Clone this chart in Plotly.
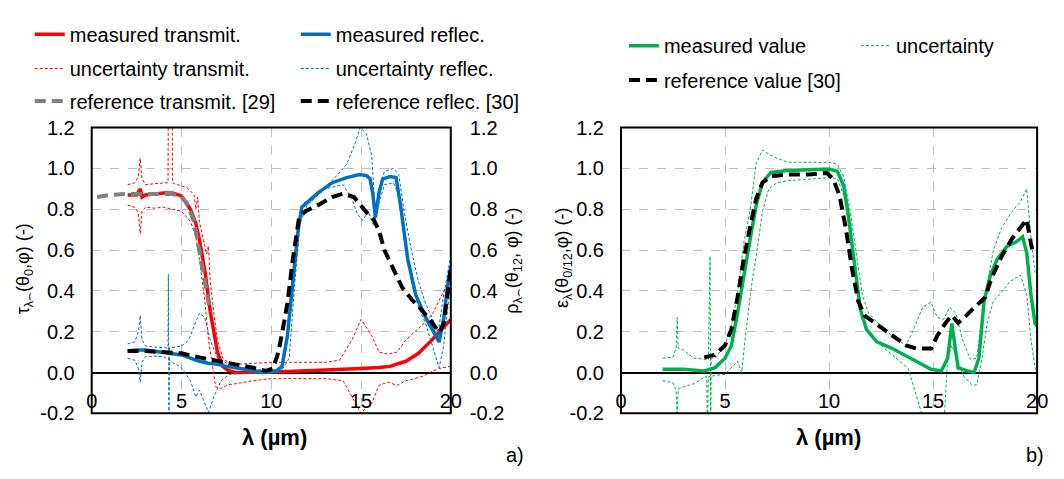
import plotly.graph_objects as go

# ---------------- data ----------------
# Left panel a): transmittance (left axis) and reflectance (right axis)
meas_T_x = [2.0, 2.5, 2.7, 2.8, 3.0, 3.5, 4.0, 4.5, 5.0, 5.5, 5.8, 6.0, 6.3, 6.6, 7.0, 7.3, 7.6, 8.0, 9.0, 10.0,
            11.0, 12.0, 13.0, 14.0, 15.0, 16.0, 16.6, 17.5, 18.2, 18.9, 19.5, 20.0]
meas_T_y = [0.87, 0.87, 0.90, 0.86, 0.87, 0.875, 0.88, 0.88, 0.865, 0.80, 0.73, 0.65, 0.50, 0.30, 0.10, 0.03, 0.01,
            0.0, 0.0, 0.003, 0.005, 0.008, 0.01, 0.013, 0.02, 0.025, 0.03, 0.055, 0.094, 0.155, 0.21, 0.26]

unc_T_up_x = [2.0, 2.4, 2.6, 2.7, 2.8, 3.0, 3.5, 4.0, 4.25, 4.28, 4.47, 4.5, 4.6, 5.0, 5.3, 5.5, 5.7, 5.8, 5.9,
              6.0, 6.2, 6.4, 6.5, 6.6, 6.8, 7.0, 7.3, 7.6, 8.0, 9.0, 10.0, 11.0, 12.0, 13.0, 13.8, 14.0, 14.5,
              15.0, 15.3, 15.6, 16.0, 16.5, 17.0, 17.5, 18.0, 18.5, 19.0, 19.5, 20.0]
unc_T_up_y = [0.92, 0.93, 0.96, 1.05, 0.95, 0.92, 0.925, 0.93, 0.93, 1.6, 1.6, 0.93, 0.925, 0.915, 0.905, 0.89,
              0.87, 0.80, 0.86, 0.74, 0.66, 0.58, 0.62, 0.45, 0.29, 0.16, 0.07, 0.05, 0.04, 0.045, 0.05, 0.05,
              0.05, 0.05, 0.06, 0.09, 0.16, 0.26, 0.22, 0.18, 0.10, 0.09, 0.10, 0.16, 0.20, 0.24, 0.29, 0.38, 0.47]

unc_T_lo_x = [2.0, 2.4, 2.6, 2.7, 2.8, 3.0, 3.5, 4.0, 4.5, 5.0, 5.5, 5.8, 6.0, 6.3, 6.5, 6.7, 6.9, 7.2, 7.6, 8.0,
              9.0, 10.0, 11.0, 12.0, 13.0, 14.0, 14.5, 15.0, 15.3, 15.6, 16.0, 16.5, 17.0, 17.5, 18.0, 18.5,
              19.0, 19.5, 20.0]
unc_T_lo_y = [0.82, 0.81, 0.78, 0.68, 0.79, 0.81, 0.805, 0.81, 0.80, 0.79, 0.74, 0.665, 0.555, 0.35, 0.165, 0.04,
              -0.07, -0.078, -0.06, -0.055, -0.04, -0.03, -0.03, -0.03, -0.03, -0.04, -0.12, -0.20, -0.17, -0.15,
              -0.063, -0.047, -0.063, -0.04, -0.03, -0.016, 0.008, 0.023, 0.03]

ref_T_x = [0.3, 1.0, 2.0, 3.0, 4.0, 4.5, 5.0, 5.3, 5.7, 6.0, 6.3, 6.6]
ref_T_y = [0.86, 0.87, 0.875, 0.877, 0.877, 0.875, 0.86, 0.83, 0.74, 0.60, 0.45, 0.30]

meas_R_x = [2.0, 2.5, 3.0, 3.5, 4.0, 4.5, 5.0, 5.5, 6.0, 6.5, 7.0, 7.5, 8.0, 8.5, 9.0, 9.7, 10.3, 10.6, 10.9,
            11.25, 11.5, 11.7, 12.1, 12.6, 13.4, 14.2, 14.9, 15.3, 15.5, 15.65, 15.8, 16.0, 16.2, 16.6, 16.95,
            17.2, 17.6, 18.05, 18.6, 19.1, 19.35, 19.6, 19.8, 20.0]
meas_R_y = [0.105, 0.11, 0.11, 0.105, 0.10, 0.095, 0.086, 0.07, 0.055, 0.045, 0.04, 0.03, 0.023, 0.015, 0.008,
            0.0, 0.008, 0.03, 0.18, 0.48, 0.70, 0.81, 0.84, 0.88, 0.93, 0.955, 0.97, 0.965, 0.95, 0.88, 0.76,
            0.88, 0.947, 0.96, 0.955, 0.82, 0.555, 0.38, 0.27, 0.19, 0.15, 0.26, 0.41, 0.52]

unc_R_up_x = [2.0, 2.4, 2.6, 2.7, 2.8, 3.0, 3.5, 4.0, 4.25, 4.27, 4.30, 4.33, 5.0, 5.3, 5.5, 5.8, 6.0, 6.3, 6.6,
              7.0, 7.5, 8.0, 9.0, 10.0, 10.5, 10.8, 11.0, 11.2, 11.5, 11.8, 12.5, 13.5, 14.2, 14.7, 14.95, 15.3,
              15.6, 15.8, 16.0, 16.3, 16.8, 17.1, 17.4, 17.8, 18.2, 18.6, 19.0, 19.3, 19.6, 20.0]
unc_R_up_y = [0.14, 0.15, 0.20, 0.28, 0.16, 0.13, 0.125, 0.12, 0.12, 0.48, -0.3, 0.12, 0.13, 0.15, 0.18, 0.25,
              0.29, 0.27, 0.16, 0.07, 0.047, 0.03, 0.015, 0.01, 0.02, 0.10, 0.29, 0.50, 0.72, 0.83, 0.87, 0.95,
              1.02, 1.13, 1.20, 1.17, 1.06, 0.77, 0.90, 0.985, 1.0, 0.97, 0.79, 0.60, 0.446, 0.336, 0.26, 0.196,
              0.38, 0.57]

unc_R_lo_x = [2.0, 2.4, 2.6, 2.7, 2.8, 3.0, 3.5, 4.0, 4.5, 5.0, 5.5, 5.8, 6.0, 6.3, 6.5, 6.8, 7.2, 7.7, 8.5, 9.5,
              10.5, 11.0, 11.3, 11.6, 12.0, 13.0, 14.0, 14.5, 14.8, 15.1, 15.4, 15.7, 16.0, 16.3, 16.8, 17.1,
              17.4, 17.8, 18.2, 18.6, 19.0, 19.35, 19.6, 20.0]
unc_R_lo_y = [0.07, 0.06, 0.02, -0.047, 0.05, 0.078, 0.08, 0.078, 0.05, 0.023, -0.04, -0.12, -0.086, -0.15,
              -0.196, -0.12, -0.04, -0.008, -0.005, -0.005, 0.0, 0.07, 0.43, 0.73, 0.82, 0.90, 0.92, 0.85, 0.775,
              0.745, 0.79, 0.72, 0.83, 0.92, 0.93, 0.87, 0.665, 0.446, 0.32, 0.24, 0.13, 0.023, 0.13, 0.45]

ref_R_x = [2.0, 3.0, 4.0, 5.0, 6.0, 7.0, 8.0, 9.0, 9.7, 10.1, 10.4, 10.7, 10.9, 11.2, 11.55, 11.9, 12.6, 13.4,
           14.0, 14.6, 15.1, 15.4, 15.7, 16.0, 16.3, 16.8, 17.3, 17.8, 18.4, 19.0, 19.35, 19.6, 19.85, 20.0]
ref_R_y = [0.105, 0.105, 0.10, 0.094, 0.074, 0.055, 0.04, 0.023, 0.008, 0.02, 0.10, 0.24, 0.34, 0.555, 0.76,
           0.79, 0.82, 0.86, 0.876, 0.86, 0.806, 0.775, 0.75, 0.696, 0.60, 0.51, 0.415, 0.36, 0.305, 0.24,
           0.196, 0.24, 0.41, 0.51]

# Right panel b): emissivity
meas_E_x = [2.0, 3.0, 4.0, 4.5, 5.0, 5.3, 5.6, 5.9, 6.2, 6.5, 6.8, 7.2, 8.0, 9.0, 10.0, 10.4, 10.7, 10.9, 11.1,
            11.3, 11.5, 11.8, 12.3, 13.0, 14.0, 14.9, 15.4, 15.7, 15.9, 16.0, 16.2, 16.65, 16.97, 17.2, 17.45,
            17.76, 18.08, 18.55, 19.0, 19.3, 19.5, 19.7, 19.9, 20.0]
meas_E_y = [0.016, 0.016, 0.008, 0.023, 0.07, 0.13, 0.29, 0.48, 0.65, 0.82, 0.93, 0.98, 0.99, 0.994, 0.997,
            0.986, 0.915, 0.79, 0.634, 0.477, 0.31, 0.21, 0.15, 0.12, 0.063, 0.016, 0.008, 0.07, 0.24, 0.16,
            0.023, 0.008, 0.0, 0.07, 0.35, 0.477, 0.555, 0.618, 0.64, 0.665, 0.587, 0.383, 0.24, 0.227]

unc_E_up_x = [2.0, 2.5, 2.65, 2.7, 2.75, 3.0, 3.5, 4.2, 4.28, 4.31, 4.34, 4.5, 5.0, 5.3, 5.6, 5.9, 6.2, 6.5,
              6.8, 7.1, 7.5, 8.0, 9.0, 10.0, 10.4, 10.7, 11.0, 11.3, 11.6, 11.9, 12.5, 13.2, 13.7, 14.0, 14.5,
              14.9, 15.2, 15.5, 15.8, 16.1, 16.4, 16.8, 17.1, 17.5, 17.9, 18.3, 18.8, 19.2, 19.5, 19.7, 19.9, 20.0]
unc_E_up_y = [0.07, 0.075, 0.12, 0.27, 0.12, 0.11, 0.07, 0.063, 0.57, -0.3, 0.07, 0.07, 0.133, 0.227, 0.383,
              0.634, 0.79, 1.025, 1.09, 1.07, 1.05, 1.03, 1.03, 1.03, 1.02, 0.96, 0.80, 0.60, 0.38, 0.29, 0.227,
              0.164, 0.133, 0.196, 0.32, 0.345, 0.27, 0.26, 0.32, 0.29, 0.164, 0.063, 0.07, 0.383, 0.60, 0.71,
              0.79, 0.837, 0.90, 0.665, 0.49, 0.477]

unc_E_lo_x = [2.0, 2.5, 2.65, 2.7, 2.75, 3.0, 3.5, 4.0, 4.12, 4.15, 4.2, 4.5, 5.0, 5.3, 5.6, 5.8, 6.0, 6.3, 6.5,
              6.8, 7.1, 7.5, 8.0, 9.0, 10.0, 10.4, 10.7, 11.0, 11.3, 11.6, 11.9, 12.5, 13.2, 13.8, 14.45, 14.6,
              15.3, 15.55, 15.7, 15.9, 16.2, 16.5, 16.9, 17.1, 17.35, 17.6, 17.9, 18.2, 18.7, 19.2, 19.5, 19.7,
              19.9, 20.0]
unc_E_lo_y = [-0.04, -0.05, -0.09, -0.21, -0.08, -0.07, -0.055, -0.023, -0.02, -0.3, -0.02, -0.016, -0.008,
              0.023, 0.055, 0.0, 0.196, 0.446, 0.57, 0.79, 0.90, 0.93, 0.94, 0.947, 0.955, 0.95, 0.87, 0.70,
              0.48, 0.29, 0.196, 0.133, 0.07, 0.02, -0.2, -0.4, -0.4, -0.2, 0.07, 0.133, 0.055, -0.023, -0.063,
              -0.06, 0.07, 0.243, 0.35, 0.383, 0.446, 0.477, 0.383, 0.164, 0.023, 0.0]

ref_E_x = [4.0, 4.5, 5.0, 5.3, 5.6, 5.9, 6.2, 6.5, 6.8, 7.2, 8.0, 9.0, 9.9, 10.2, 10.5, 10.8, 11.1, 11.4, 11.7,
           12.3, 13.0, 13.7, 14.2, 14.9, 15.2, 15.6, 15.9, 16.2, 16.6, 17.2, 17.5, 17.8, 18.3, 18.8, 19.3, 19.5,
           19.7, 19.8]
ref_E_y = [0.074, 0.086, 0.133, 0.21, 0.368, 0.555, 0.71, 0.853, 0.93, 0.962, 0.97, 0.97, 0.978, 0.947, 0.868,
           0.71, 0.51, 0.35, 0.28, 0.235, 0.18, 0.133, 0.117, 0.117, 0.18, 0.243, 0.28, 0.243, 0.28, 0.336,
           0.368, 0.46, 0.57, 0.657, 0.72, 0.75, 0.634, 0.587]

x_tickvals = [0, 5, 10, 15, 20]
x_ticktext = ["0", "5", "10", "15", "20"]
y_tickvals = [-0.2, 0.0, 0.2, 0.4, 0.6, 0.8, 1.0, 1.2]
y_ticktext = ["-0.2", "0.0", "0.2", "0.4", "0.6", "0.8", "1.0", "1.2"]

# ---------------- styling ----------------
RED = "#FF0000"
BLUE = "#0070C0"
GRAY = "#808080"
BLACK = "#000000"
GREEN = "#00B050"
FONT = "Liberation Sans, Arial, sans-serif"
FS = 20
FS_YTITLE = 18
FS_XTITLE = 22

# The page body keeps its default 8px margin, so the figure is sized to fill
# the 1064x479 window exactly; positions below are given in window pixels.
PAGE_M = 8
FW, FH = 1064 - 2 * PAGE_M, 479 - 2 * PAGE_M


def fx(px):
    return (px - PAGE_M) / FW


def fy(py):
    return 1 - (py - PAGE_M) / FH


MEAS_W = 3.5
UNC_W = 1
UNC_DASH = "3px,2px"
REF_W = 4
REF_DASH = "11px,6px"

fig = go.Figure()


def add(x, y, name, color, width, dash, xa, ya, legend, showlegend=True, lw=None):
    fig.add_trace(go.Scatter(
        x=x, y=y, name=name, mode="lines", xaxis=xa, yaxis=ya,
        line=dict(color=color, width=width, dash=dash),
        legend=legend, showlegend=showlegend, legendwidth=lw, hoverinfo="skip"))


COL1, COL2 = 221, 210
# panel a) transmission (left axis)
add(unc_T_up_x, unc_T_up_y, "uncertainty transmit.", RED, UNC_W, UNC_DASH, "x", "y", "legend2", True, COL1)
add(unc_T_lo_x, unc_T_lo_y, "uncertainty transmit.", RED, UNC_W, UNC_DASH, "x", "y", "legend2", False)
add(meas_T_x, meas_T_y, "measured transmit.", RED, MEAS_W, "solid", "x", "y", "legend", True, COL1)
add(ref_T_x, ref_T_y, "reference transmit. [29]", GRAY, REF_W, REF_DASH, "x", "y", "legend3", True, COL1)
# panel a) reflection (right axis)
add(unc_R_up_x, unc_R_up_y, "uncertainty reflec.", BLUE, UNC_W, UNC_DASH, "x", "y2", "legend2", True, COL2)
add(unc_R_lo_x, unc_R_lo_y, "uncertainty reflec.", BLUE, UNC_W, UNC_DASH, "x", "y2", "legend2", False)
add(meas_R_x, meas_R_y, "measured reflec.", BLUE, MEAS_W, "solid", "x", "y2", "legend", True, COL2)
add(ref_R_x, ref_R_y, "reference reflec. [30]", BLACK, REF_W, REF_DASH, "x", "y2", "legend3", True, COL2)
# panel b) emissivity
add(meas_E_x, meas_E_y, "measured value", GREEN, MEAS_W, "solid", "x2", "y3", "legend4", True, 187)
add(unc_E_up_x, unc_E_up_y, "uncertainty", GREEN, UNC_W, UNC_DASH, "x2", "y3", "legend4", True, 120)
add(unc_E_lo_x, unc_E_lo_y, "uncertainty", GREEN, UNC_W, UNC_DASH, "x2", "y3", "legend4", False)
add(ref_E_x, ref_E_y, "reference value [30]", BLACK, REF_W, REF_DASH, "x2", "y3", "legend5", True, 200)

# ---------------- layout geometry (window pixels) ----------------
yd = [fy(422), fy(122)]
xdA = [fx(87), fx(452)]
xdB = [fx(625), fx(1048)]
zero_pos = yd[0] + (yd[1] - yd[0]) * (0.2 / 1.4)

grid = dict(showgrid=True, gridcolor="#BFBFBF", gridwidth=1, griddash="dash")
tickfont = dict(family=FONT, size=FS, color=BLACK)


def xaxis(domain):
    return dict(domain=domain, range=[0, 20], anchor="free", position=zero_pos,
                tickvals=x_tickvals, ticktext=x_ticktext, tickfont=tickfont,
                showline=False, zeroline=False, ticks="", ticklabelstandoff=14, **grid)


def yaxis(anchor, side="left", overlay=None, showgrid=True, standoff=16):
    d = dict(range=[-0.2, 1.2], domain=yd, anchor=anchor, side=side,
             tickvals=y_tickvals, ticktext=y_ticktext, tickfont=tickfont,
             showline=False, ticks="", ticklabelstandoff=standoff,
             zeroline=True, zerolinecolor=BLACK, zerolinewidth=2)
    if showgrid:
        d.update(grid)
    else:
        d["showgrid"] = False
    if overlay:
        d["overlaying"] = overlay
        d["zeroline"] = False
    return d


leg_common = dict(orientation="h", xanchor="left", yanchor="middle", bgcolor="rgba(0,0,0,0)",
                  font=dict(family=FONT, size=FS, color=BLACK), itemwidth=30, tracegroupgap=0,
                  traceorder="normal")

fig.update_layout(
    width=FW, height=FH, autosize=False,
    margin=dict(l=0, r=0, t=0, b=0),
    paper_bgcolor="white", plot_bgcolor="white",
    font=dict(family=FONT, size=FS, color=BLACK),
    xaxis=xaxis(xdA),
    xaxis2=xaxis(xdB),
    yaxis=yaxis("x", standoff=16),
    yaxis2=yaxis("x", side="right", overlay="y", showgrid=False, standoff=18),
    yaxis3=yaxis("x2", standoff=16),
    legend=dict(x=fx(24), y=fy(24), **leg_common),
    legend2=dict(x=fx(24), y=fy(60), **leg_common),
    legend3=dict(x=fx(24), y=fy(94), **leg_common),
    legend4=dict(x=fx(628), y=fy(36), **leg_common),
    legend5=dict(x=fx(628), y=fy(72), **leg_common),
    showlegend=True,
)

# plot frames
for xref, yref in (("x domain", "y domain"), ("x2 domain", "y3 domain")):
    fig.add_shape(type="rect", xref=xref, yref=yref, x0=0, x1=1, y0=0, y1=1,
                  line=dict(color=BLACK, width=2), layer="above")

ann = dict(showarrow=False, xref="paper", yref="paper", xanchor="center", yanchor="middle")
yt_font = dict(family=FONT, size=FS_YTITLE, color=BLACK)
xt_font = dict(family=FONT, size=FS_XTITLE, color=BLACK)
fig.add_annotation(x=fx(19), y=fy(270), text="τ<sub>λ⌢</sub>(θ<sub>0</sub>,φ) (-)", textangle=-90,
                   font=yt_font, **ann)
fig.add_annotation(x=fx(516), y=fy(262), text="ρ<sub>λ⌢</sub>(θ<sub>12</sub>, φ) (-)", textangle=-90,
                   font=yt_font, **ann)
fig.add_annotation(x=fx(566), y=fy(258), text="ε<sub>λ</sub>(θ<sub>0/12</sub>,φ) (-)", textangle=-90,
                   font=yt_font, **ann)
fig.add_annotation(x=fx(273), y=fy(447), text="<b>λ (µm)</b>", font=xt_font, **ann)
fig.add_annotation(x=fx(836), y=fy(447), text="<b>λ (µm)</b>", font=xt_font, **ann)
fig.add_annotation(x=fx(517), y=fy(466), text="a)", font=dict(family=FONT, size=FS, color=BLACK), **ann)
fig.add_annotation(x=fx(1046), y=fy(466), text="b)", font=dict(family=FONT, size=FS, color=BLACK), **ann)

fig.write_html("out.html", config={"displayModeBar": False})
